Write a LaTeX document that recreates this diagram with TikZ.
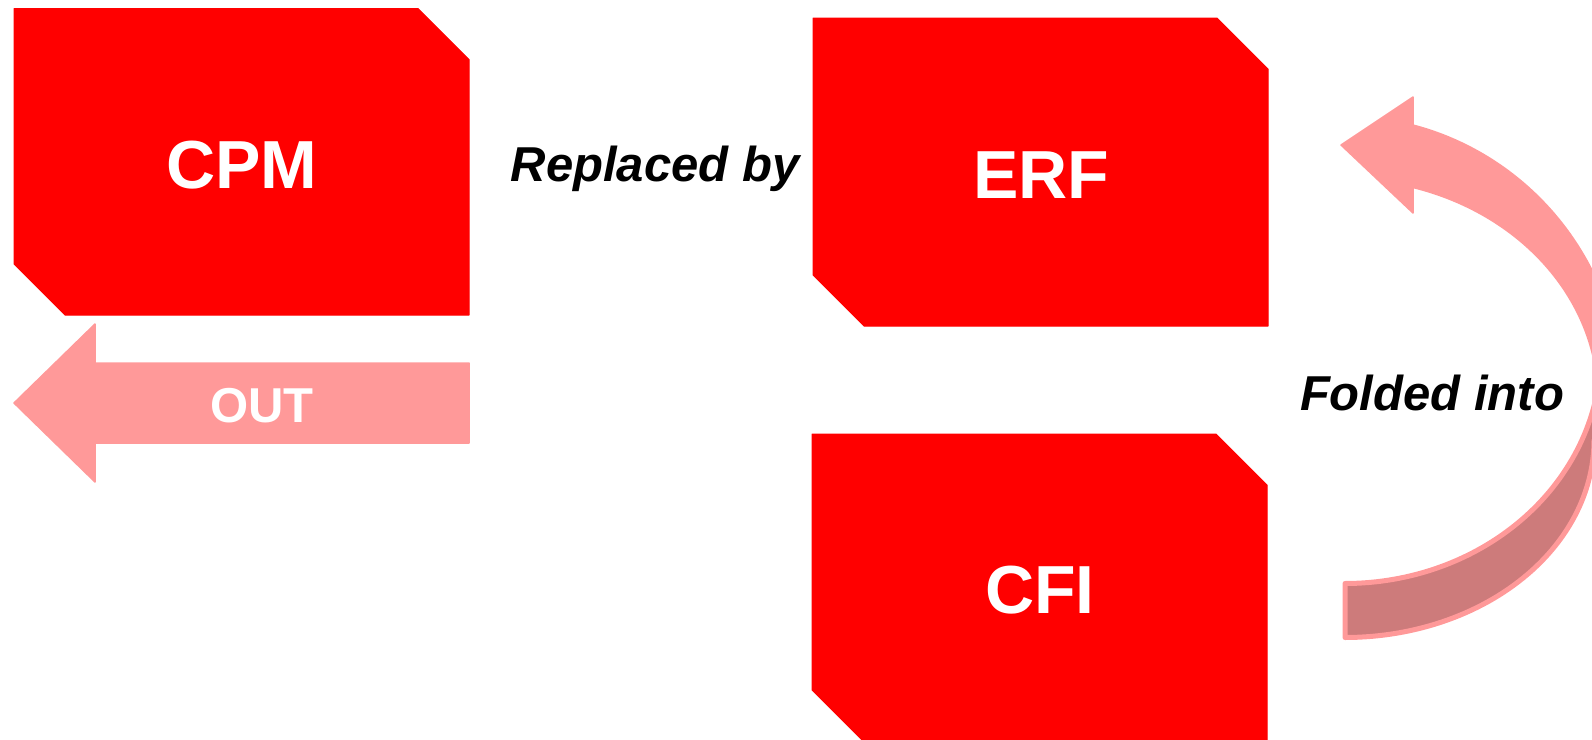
\documentclass[tikz,border=0pt]{standalone}
\usepackage{fontspec}
\setmainfont{Liberation Sans}
\definecolor{boxred}{RGB}{255,0,0}
\definecolor{arrowpink}{RGB}{255,153,153}
\definecolor{backpink}{RGB}{205,123,123}
\tikzset{
  boxshape/.style={fill=boxred, draw=boxred, line width=1pt, line join=round},
  boxlabel/.style={text=white, font=\fontsize{68}{80}\selectfont\bfseries, inner sep=0pt, anchor=base},
  outlabel/.style={text=white, font=\fontsize{49}{58}\selectfont\bfseries, inner sep=0pt, anchor=base},
  edgelabel/.style={text=black, font=\fontsize{49}{58}\selectfont\bfseries\itshape, inner sep=0pt, anchor=base},
  fatarrow/.style={fill=arrowpink, draw=arrowpink, line width=1.5pt, line join=round},
  backface/.style={fill=backpink, draw=arrowpink, line width=5pt, line join=round},
}
\begin{document}
\begin{tikzpicture}[x=1pt,y=-1pt]
\useasboundingbox (0,0) rectangle (1592,739);
\begin{scope}
\clip (0,0) rectangle (1592,739);
% boxes
\path[boxshape] (14,8.5) -- (418,8.5) -- (469,59.5) -- (469,315) -- (65,315) -- (14,264) -- cycle;
\path[boxshape] (813,18) -- (1217,18) -- (1268,69) -- (1268,326) -- (864,326) -- (813,275) -- cycle;
\path[boxshape] (812,434) -- (1216,434) -- (1267,485) -- (1267,741) -- (863,741) -- (812,690) -- cycle;
% OUT arrow
\path[fatarrow] (14,403) -- (95,324) -- (95,363) -- (469,363) -- (469,443) -- (95,443) -- (95,482) -- cycle;
% curved arrow: back face
\path[backface] plot[domain=90:0, samples=60] ({1345+249*cos(\x)},{440+197.5*sin(\x)})
  -- (1604,440) -- (1604,392)
  -- plot[domain=10:90, samples=60] ({1345+256*cos(\x)},{352.5+231*sin(\x)}) -- cycle;
% curved arrow: front face with head
\path[fatarrow] plot[domain=-74.07:-3, samples=60] ({1343+255*cos(\x)},{400+221*sin(\x)})
  -- (1596,424) -- (1630,424)
  -- plot[domain=0:-75.52, samples=60] ({1343+280*cos(\x)},{400+284*sin(\x)})
  -- (1413,97) -- (1341,145) -- (1413,213) -- cycle;
\end{scope}
% labels
\node[boxlabel] (cpm) at (242,188) {CPM};
\node[boxlabel] (erf) at (1041,198) {ERF};
\node[boxlabel] (cfi) at (1040,613) {CFI};
\node[outlabel] (out) at (262,422) {OUT};
\node[edgelabel] (replaced) at (655,181) {Replaced by};
\node[edgelabel] (folded) at (1432,410) {Folded into};
\end{tikzpicture}
\end{document}
